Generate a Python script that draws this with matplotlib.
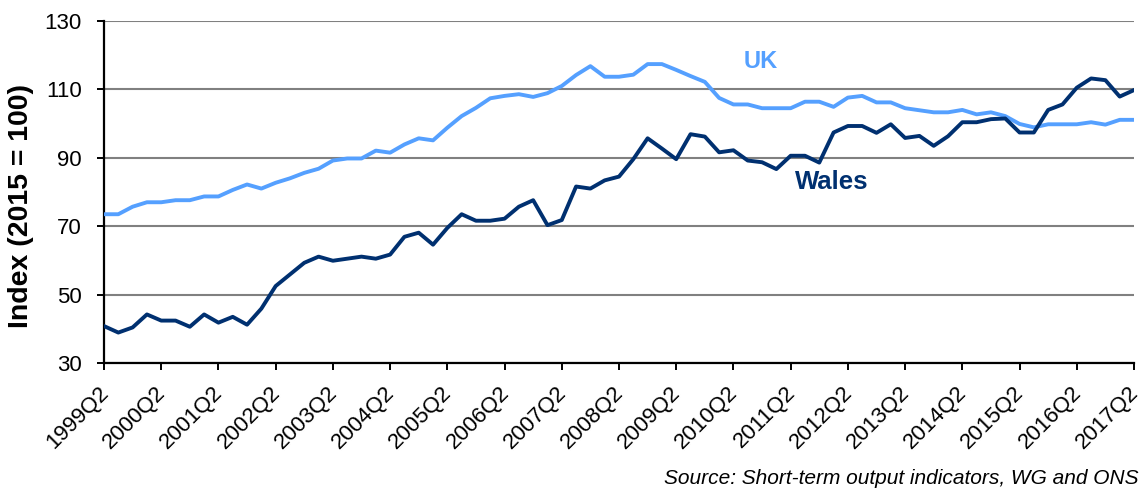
import numpy as np
import matplotlib
matplotlib.use("Agg")
from matplotlib import pyplot as plt
from matplotlib.transforms import ScaledTranslation

plt.rcParams['font.family'] = ['Liberation Sans', 'DejaVu Sans']

# quarterly index values, 1999Q2 to 2017Q2
years = list(range(1999, 2018))
quarters = []
for y in years:
    for q in range(1, 5):
        quarters.append(f"{y}Q{q}")
quarters = quarters[quarters.index("1999Q2"):quarters.index("2017Q2") + 1]

uk = [73.5, 73.5, 75.7, 77.0, 77.0, 77.6, 77.6, 78.7, 78.7, 80.6, 82.2, 81.0,
      82.7, 84.0, 85.6, 86.8, 89.2, 89.8, 89.8, 92.1, 91.5, 93.9, 95.7, 95.1,
      98.8, 102.2, 104.6, 107.4, 108.1, 108.6, 107.8, 108.9, 111.0, 114.2, 116.8, 113.7,
      113.7, 114.3, 117.4, 117.4, 115.7, 113.9, 112.2, 107.5, 105.6, 105.6, 104.5, 104.5,
      104.5, 106.4, 106.4, 104.9, 107.6, 108.1, 106.2, 106.2, 104.5, 103.9, 103.3, 103.3,
      104.0, 102.7, 103.3, 102.2, 99.9, 98.9, 99.8, 99.8, 99.8, 100.4, 99.7, 101.1,
      101.1]

wales = [40.8, 38.9, 40.4, 44.2, 42.4, 42.4, 40.6, 44.2, 41.8, 43.5, 41.2, 45.9,
         52.5, 55.9, 59.3, 61.1, 59.9, 60.5, 61.1, 60.5, 61.7, 66.9, 68.1, 64.6,
         69.5, 73.5, 71.6, 71.6, 72.2, 75.7, 77.6, 70.3, 71.8, 81.6, 81.0, 83.4,
         84.5, 89.6, 95.7, 92.7, 89.6, 96.9, 96.2, 91.6, 92.2, 89.2, 88.7, 86.7,
         90.6, 90.6, 88.6, 97.4, 99.3, 99.3, 97.3, 99.8, 95.8, 96.4, 93.5, 96.3,
         100.4, 100.4, 101.3, 101.5, 97.4, 97.4, 104.0, 105.6, 110.5, 113.2, 112.7, 107.9,
         109.8]

uk_col = "#55a0ff"
wales_col = "#003070"

x = np.arange(len(quarters))

fig = plt.figure(figsize=(11.39, 4.93), dpi=100)
ax = fig.add_axes([104/1139, 1 - 363/493, 1030/1139, 342/493])

ax.plot(x, uk, color=uk_col, lw=2.8, zorder=3)
ax.plot(x, wales, color=wales_col, lw=2.8, zorder=3)

ax.set_xlim(0, len(quarters) - 1)
ax.set_ylim(30, 130)
ax.set_yticks(range(30, 131, 20))
ax.yaxis.grid(True, color="#808080", lw=1.5)
ax.set_axisbelow(True)

ax.set_xticks(x[::4])
ax.set_xticklabels(quarters[::4], rotation=45, ha="right", rotation_mode="anchor")

for s in ["top", "right"]:
    ax.spines[s].set_visible(False)
for s in ["left", "bottom"]:
    ax.spines[s].set_linewidth(1.6)
    ax.spines[s].set_color("black")
ax.tick_params(axis="both", labelsize=16, width=1.4, length=5, color="black")
ax.tick_params(axis="y", pad=11)
ax.tick_params(axis="x", pad=9)
# nudge the slanted labels a little to the left
for lbl in ax.get_xticklabels():
    lbl.set_transform(lbl.get_transform() + ScaledTranslation(-0.06, 0, fig.dpi_scale_trans))

ax.set_ylabel("Index (2015 = 100)", fontsize=20.5, fontweight="bold")
ax.yaxis.set_label_coords(-0.068, 0.459)

ax.text(45.9, 118.1, "UK", color=uk_col, fontsize=17, fontweight="bold", ha="center", va="center")
ax.text(50.9, 83.0, "Wales", color=wales_col, fontsize=18.5, fontweight="bold", ha="center", va="center")

fig.text(1.0, 1 - 478/493, "Source: Short-term output indicators, WG and ONS",
         fontsize=15, style="italic", ha="right", va="center")

plt.savefig("out.png", dpi=100)
